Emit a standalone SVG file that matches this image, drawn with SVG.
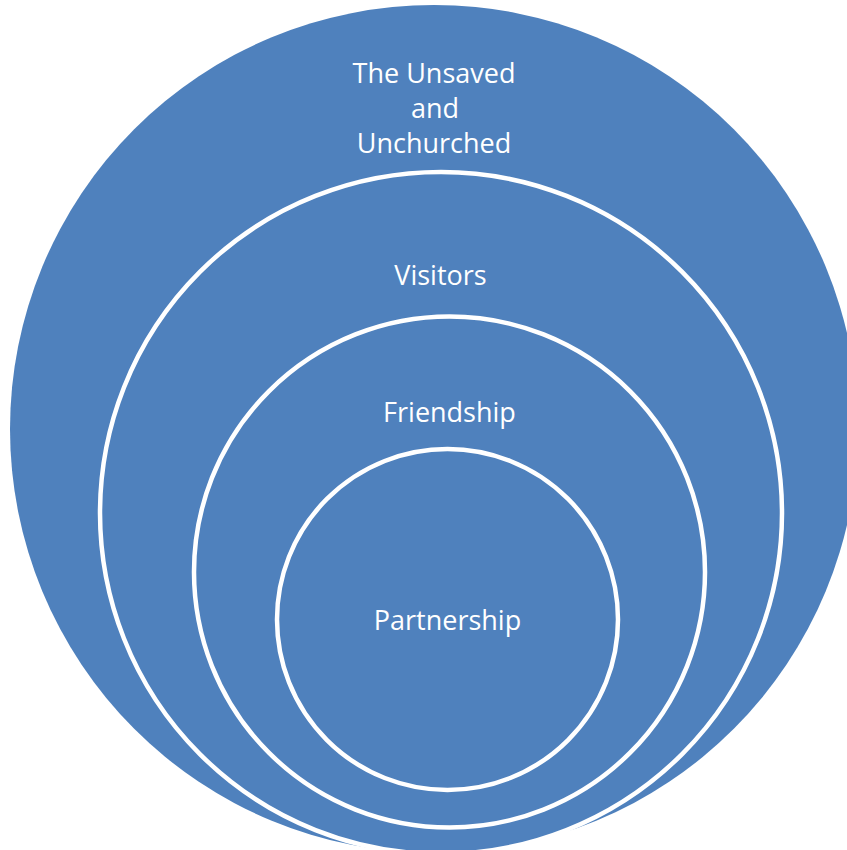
<svg xmlns="http://www.w3.org/2000/svg" width="847" height="850" viewBox="0 0 847 850">
<style>
.ring{fill:#4F81BD;stroke:#FFFFFF;stroke-width:4.5}
.outer{fill:#4F81BD;stroke:none}
.lbl{font-family:"Open Sans","Liberation Sans",sans-serif;font-size:27px;fill:#FFFFFF;text-anchor:middle}
</style>
<rect width="847" height="850" fill="#FFFFFF"/>
<g id="unsaved">
<circle class="outer" cx="434" cy="429" r="424"/>
<text class="lbl" x="434" y="83">The Unsaved</text>
<text class="lbl" x="435" y="118">and</text>
<text class="lbl" x="434" y="153">Unchurched</text>
</g>
<g id="visitors">
<circle class="ring" cx="441" cy="513" r="341"/>
<text class="lbl" x="440.5" y="285">Visitors</text>
</g>
<g id="friendship">
<circle class="ring" cx="449.5" cy="572" r="255.5"/>
<text class="lbl" x="449.5" y="422">Friendship</text>
</g>
<g id="partnership">
<circle class="ring" cx="447.5" cy="619.5" r="170.5"/>
<text class="lbl" x="447.5" y="630">Partnership</text>
</g>
<g id="connectors"></g>
</svg>
